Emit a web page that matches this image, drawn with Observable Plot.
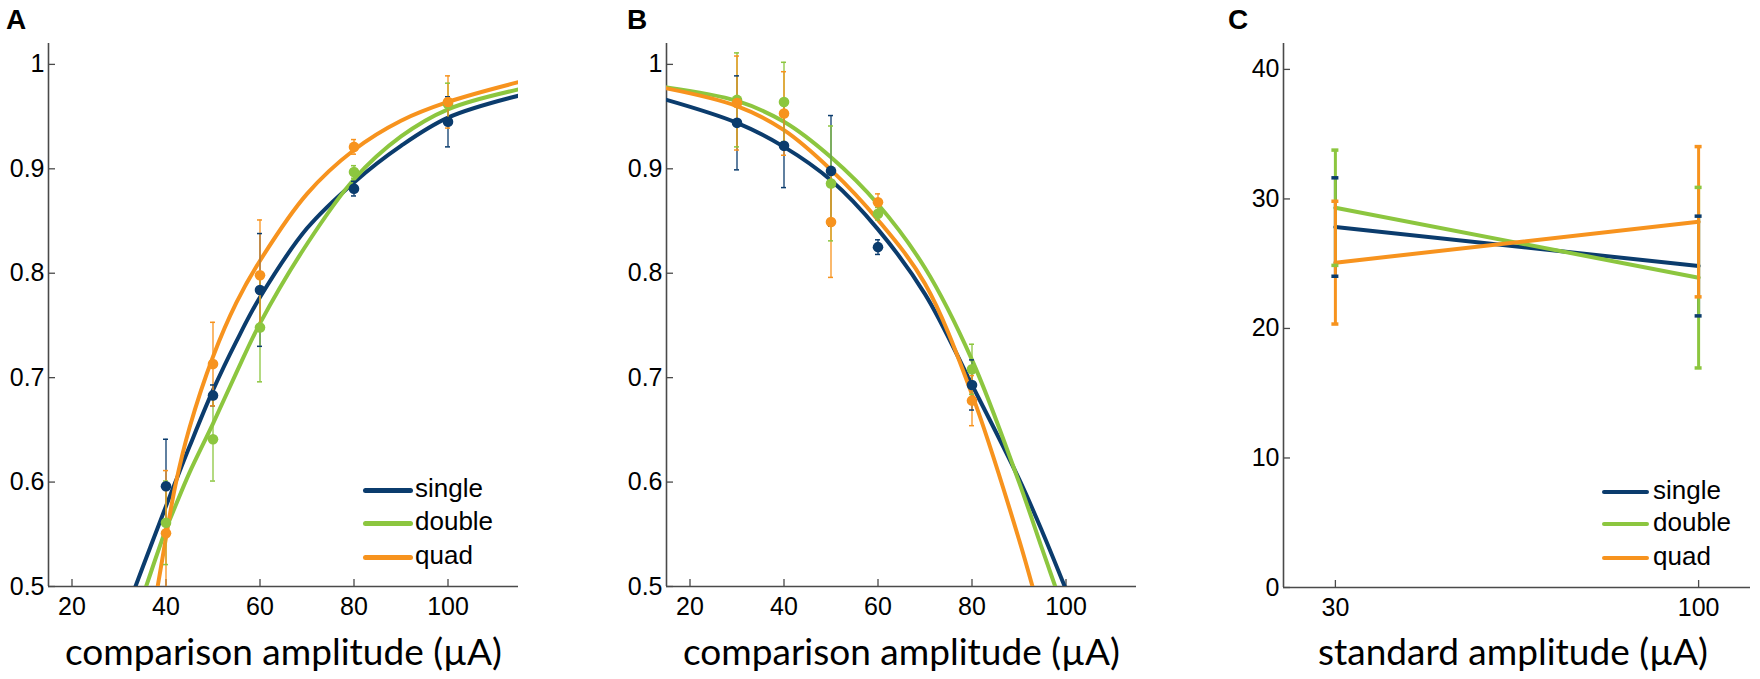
<!DOCTYPE html>
<html><head><meta charset="utf-8">
<script src="https://cdn.jsdelivr.net/npm/d3@7"></script>
<script src="https://cdn.jsdelivr.net/npm/@observablehq/plot@0.6"></script>
<style>
html,body{margin:0;padding:0;background:#fff}
#root{position:relative;width:1760px;height:679px;overflow:hidden;background:#fff}
.panel{position:absolute;top:0}
.plabel{position:absolute;font:bold 28px "Liberation Sans",Arial,sans-serif;line-height:28px;color:#000}
.legline{position:absolute}
.legtext{position:absolute;font:26px "Liberation Sans",Arial,sans-serif;line-height:26px;color:#000;white-space:nowrap}
</style></head><body><div id="root"></div>
<script>
// ---------- data ----------
const series = ["single", "double", "quad"];
const colors = ["#0b3c6d", "#8cc63f", "#f7931e"];

// Panel A: points (comparison amplitude, proportion) and error half-widths
const aX = [40, 50, 60, 80, 100];
const aSingle = [0.596, 0.683, 0.784, 0.881, 0.945];
const aSingleErr = [0.045, 0.010, 0.054, 0.007, 0.024];
const aDouble = [0.561, 0.641, 0.748, 0.897, 0.962];
const aDoubleErr = [0.040, 0.040, 0.052, 0.006, 0.020];
const aQuad = [0.551, 0.713, 0.798, 0.921, 0.964];
const aQuadErr = [0.060, 0.040, 0.053, 0.007, 0.025];
// Panel A: fitted curves
const aFitX = [30, 35, 40, 42, 45, 50, 55, 60, 70, 80, 90, 100, 115];
const aFitSingle = [0.458, 0.518, 0.577, 0.600, 0.634, 0.688, 0.735, 0.777, 0.843, 0.887, 0.922, 0.949, 0.970];
const aFitDouble = [0.425, 0.490, 0.555, 0.577, 0.609, 0.656, 0.705, 0.752, 0.828, 0.890, 0.931, 0.957, 0.976];
const aFitQuad = [0.28, 0.414, 0.547, 0.597, 0.652, 0.720, 0.772, 0.812, 0.876, 0.918, 0.946, 0.964, 0.983];

// Panel B
const bX = [30, 40, 50, 60, 80];
const bSingle = [0.944, 0.922, 0.898, 0.825, 0.693];
const bSingleErr = [0.045, 0.040, 0.053, 0.007, 0.024];
const bDouble = [0.966, 0.964, 0.886, 0.857, 0.708];
const bDoubleErr = [0.045, 0.038, 0.055, 0.006, 0.024];
const bQuad = [0.963, 0.953, 0.849, 0.868, 0.678];
const bQuadErr = [0.045, 0.040, 0.053, 0.008, 0.024];
const bFitX = [15, 30, 40, 50, 60, 70, 80, 90, 95, 100, 105];
const bFitSingle = [0.966, 0.944, 0.921, 0.889, 0.842, 0.780, 0.693, 0.603, 0.552, 0.497, 0.44];
const bFitDouble = [0.978, 0.965, 0.945, 0.911, 0.866, 0.805, 0.717, 0.600, 0.535, 0.470, 0.40];
const bFitQuad = [0.977, 0.960, 0.937, 0.899, 0.851, 0.790, 0.684, 0.545, 0.465, 0.38, 0.29];

// Panel C (standard amplitude, threshold)
const cX = [30, 100];
const cSingle = [27.83, 24.82];
const cSingleErr = [3.8, 3.85];
const cDouble = [29.32, 23.92];
const cDoubleErr = [4.45, 6.97];
const cQuad = [25.08, 28.24];
const cQuadErr = [4.74, 5.8];

// ticks and labels
const abXTicks = [20, 40, 60, 80, 100];
const abYTicks = [0.5, 0.6, 0.7, 0.8, 0.9, 1];
const cXTicks = [30, 100];
const cYTicks = [0, 10, 20, 30, 40];
const abXDomain = [15, 115];
const abYDomain = [0.5, 1.02];
const cXDomain = [20, 110];
const cYDomain = [0, 42];
const titleAB = "comparison amplitude (µA)";
const titleC = "standard amplitude (µA)";
const panelLetters = ["A", "B", "C"];

// ---------- helpers ----------
function rows(xs, ys, es, s) {
  return xs.map((x, i) => ({x, y: ys[i], e: es ? es[i] : 0, s}));
}
function pts(xs, arrs) {
  return arrs.flatMap(([ys, es], k) => rows(xs, ys, es, series[k]));
}
const colorScale = {domain: series, range: colors};
const AX = "#4a4a4a";
const TITLE_FONT = "Lato, 'Open Sans', sans-serif";

function axes(xd, yd, xt, yt) {
  return [
    Plot.ruleX([xd[0]], {stroke: AX, strokeWidth: 1.6}),
    Plot.ruleY([yd[0]], {stroke: AX, strokeWidth: 1.6}),
    Plot.axisX({ticks: xt, tickSize: -7, tickPadding: 18, stroke: AX, strokeWidth: 1.3, fontSize: 25, tickFormat: d => String(d), fill: "#000"}),
    Plot.axisY({ticks: yt, tickSize: -7, tickPadding: 11, stroke: AX, strokeWidth: 1.3, fontSize: 25, tickFormat: d => String(d), fill: "#000"})
  ];
}

function curvePanel({width, ml, mr, fits, points, title}) {
  return Plot.plot({
    width, height: 679,
    marginLeft: ml, marginRight: mr, marginTop: 43, marginBottom: 93,
    x: {domain: abXDomain, label: null},
    y: {domain: abYDomain, label: null},
    color: colorScale,
    style: {fontFamily: '"Liberation Sans", Arial, sans-serif', color: "#000", background: "transparent", overflow: "visible"},
    marks: [
      ...axes(abXDomain, abYDomain, abXTicks, abYTicks),
      Plot.line(fits, {x: "x", y: "y", z: "s", stroke: "s", strokeWidth: 4, curve: "catmull-rom", clip: true}),
      Plot.ruleX(points, {x: "x", y1: d => d.y - d.e, y2: d => d.y + d.e, stroke: "s", strokeWidth: 1.3, clip: true}),
      Plot.ruleY(points, {y: d => d.y + d.e, x1: "x", x2: "x", insetLeft: -2.5, insetRight: -2.5, stroke: "s", strokeWidth: 1.5, clip: true}),
      Plot.ruleY(points, {y: d => d.y - d.e, x1: "x", x2: "x", insetLeft: -2.5, insetRight: -2.5, stroke: "s", strokeWidth: 1.5, clip: true}),
      Plot.dot(points, {x: "x", y: "y", fill: "s", r: 5.3, clip: true}),
      Plot.text([title], {frameAnchor: "bottom", dy: 78, fontSize: 37, fontFamily: TITLE_FONT, fill: "#000"})
    ]
  });
}

const root = document.getElementById("root");
function place(el, left) {
  const d = document.createElement("div");
  d.className = "panel";
  d.style.left = left + "px";
  d.appendChild(el);
  root.appendChild(d);
}

// Panel A
place(curvePanel({
  width: 560, ml: 48, mr: 42,
  fits: pts(aFitX, [[aFitSingle], [aFitDouble], [aFitQuad]]),
  points: pts(aX, [[aSingle, aSingleErr], [aDouble, aDoubleErr], [aQuad, aQuadErr]]),
  title: titleAB
}), 0);

// Panel B
place(curvePanel({
  width: 560, ml: 66, mr: 24,
  fits: pts(bFitX, [[bFitSingle], [bFitDouble], [bFitQuad]]),
  points: pts(bX, [[bSingle, bSingleErr], [bDouble, bDoubleErr], [bQuad, bQuadErr]]),
  title: titleAB
}), 600);

// Panel C
const cRows = pts(cX, [[cSingle, cSingleErr], [cDouble, cDoubleErr], [cQuad, cQuadErr]]);
place(Plot.plot({
  width: 580, height: 679,
  marginLeft: 103, marginRight: 10, marginTop: 43, marginBottom: 92,
  x: {domain: cXDomain, label: null},
  y: {domain: cYDomain, label: null},
  color: colorScale,
  style: {fontFamily: '"Liberation Sans", Arial, sans-serif', color: "#000", background: "transparent", overflow: "visible"},
  marks: [
    ...axes(cXDomain, cYDomain, cXTicks, cYTicks),
    Plot.line(cRows, {x: "x", y: "y", z: "s", stroke: "s", strokeWidth: 4}),
    Plot.ruleX(cRows, {x: "x", y1: d => d.y - d.e, y2: d => d.y + d.e, stroke: "s", strokeWidth: 3}),
    Plot.ruleY(cRows, {y: d => d.y + d.e, x1: "x", x2: "x", insetLeft: -3.5, insetRight: -3.5, stroke: "s", strokeWidth: 3.5}),
    Plot.ruleY(cRows, {y: d => d.y - d.e, x1: "x", x2: "x", insetLeft: -3.5, insetRight: -3.5, stroke: "s", strokeWidth: 3.5}),
    Plot.text([titleC], {frameAnchor: "bottom", dy: 77, dx: -4, fontSize: 37, fontFamily: TITLE_FONT, fill: "#000"})
  ]
}), 1180);

// panel letters
[[6, 6], [627, 6], [1228, 6]].forEach(([l, t], i) => {
  const d = document.createElement("div");
  d.className = "plabel";
  d.style.left = l + "px"; d.style.top = t + "px";
  d.textContent = panelLetters[i];
  root.appendChild(d);
});

// legends
function legend(lineLeft, lineW, textLeft, yc, thick) {
  series.forEach((s, i) => {
    const ln = document.createElement("div");
    ln.className = "legline";
    Object.assign(ln.style, {left: lineLeft + "px", top: (yc[i] - thick / 2) + "px", width: lineW + "px", height: thick + "px", background: colors[i], borderRadius: thick / 2 + "px"});
    root.appendChild(ln);
    const tx = document.createElement("div");
    tx.className = "legtext";
    Object.assign(tx.style, {left: textLeft + "px", top: (yc[i] - 15.5) + "px"});
    tx.textContent = s;
    root.appendChild(tx);
  });
}
legend(363, 50, 415, [490, 523, 557], 5);
legend(1602, 47, 1653, [492, 524, 558], 4);
</script></body></html>
